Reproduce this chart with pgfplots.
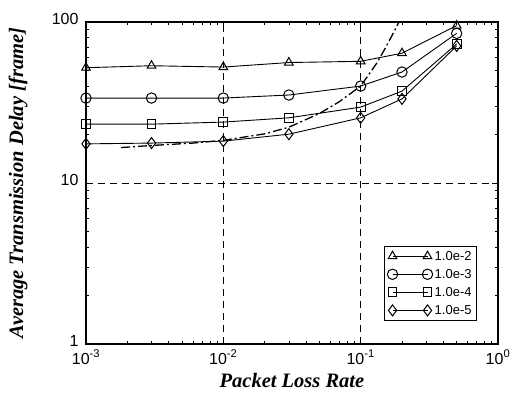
\documentclass[border=0pt]{standalone}
\usepackage{fontspec}
\setmainfont{Liberation Sans}
\newfontfamily\tnr{Liberation Serif}
\usepackage{pgfplots}
\pgfplotsset{compat=1.18}
\begin{document}
\begin{tikzpicture}
\begin{axis}[
  name=ax,
  scale only axis,
  width=412pt, height=322pt,
  xmode=log, ymode=log,
  xmin=1e-3, xmax=1, ymin=1, ymax=100,
  axis line style={line width=1.6pt},
  tick align=inside,
  major tick length=6pt, minor tick length=3pt,
  tick style={line width=0.6pt,black},
  xtick={1e-3,1e-2,1e-1,1},
  xticklabels={10\textsuperscript{-3},10\textsuperscript{-2},10\textsuperscript{-1},10\textsuperscript{0}},
  ytick={1,10,100},
  yticklabels={1,10,100},
  ticklabel style={font=\fontsize{16}{18}\selectfont},
  xticklabel style={yshift=-2.5pt},
  yticklabel style={xshift=-4pt, yshift=3pt},
  xmajorgrids, ymajorgrids,
  major grid style={dashed, black, line width=0.6pt, dash pattern=on 7pt off 5pt},
  xlabel={\tnr\bfseries\itshape Packet Loss Rate},
  ylabel={\tnr\bfseries\itshape Average Transmission Delay [frame]},
  label style={font=\fontsize{20.5}{22}\selectfont},
  xlabel style={at={(axis description cs:0.5,-0.112)}, anchor=center},
  ylabel style={at={(axis description cs:-0.165,0.5)}, anchor=center},
  legend style={at={(0.949,0.071)}, anchor=south east, font=\fontsize{13}{15}\selectfont,
    draw=black, line width=0.8pt, row sep=3.5pt, inner xsep=3pt, inner ysep=3pt},
  legend cell align=left,
  legend image code/.code={\draw[#1] plot coordinates {(0pt,0pt) (35pt,0pt)};},
  every axis plot/.append style={line width=0.9pt, black, mark size=5pt, mark options={solid, fill=white, line width=1pt}},
]
\addplot[mark=triangle] coordinates {(0.001,52) (0.003,53.5) (0.01,52.5) (0.03,56) (0.1,57) (0.2,64) (0.5,95)};
\addlegendentry{1.0e-2}
\addplot[mark=o, mark size=5.2pt] coordinates {(0.001,33.7) (0.003,33.7) (0.01,33.7) (0.03,35.2) (0.1,40) (0.2,48.9) (0.5,85)};
\addlegendentry{1.0e-3}
\addplot[mark=square, mark size=4.4pt] coordinates {(0.001,23.2) (0.003,23.2) (0.01,23.9) (0.03,25.4) (0.1,29.6) (0.2,37.2) (0.5,73)};
\addlegendentry{1.0e-4}
\addplot[mark=diamond, mark size=5.5pt] coordinates {(0.001,17.5) (0.003,17.7) (0.01,18.2) (0.03,20.1) (0.1,25.4) (0.2,33.3) (0.5,71)};
\addlegendentry{1.0e-5}
\addplot[mark=none, line width=1.3pt, dash pattern=on 9pt off 3pt on 2pt off 3pt, forget plot] coordinates {
 (0.0018,16.6) (0.003,17.1) (0.006,17.7) (0.01,18.4) (0.02,20.2) (0.03,22.2) (0.05,27) (0.07,32) (0.1,40) (0.13,55) (0.15,68) (0.17,83) (0.19,100) (0.2,110)};
\end{axis}
\pgfresetboundingbox
\path (ax.south west) ++(-86pt,-50pt) coordinate (bl);
\path (ax.north east) ++(28pt,22pt) coordinate (tr);
\path[use as bounding box] (bl) rectangle (tr);
\end{tikzpicture}
\end{document}
